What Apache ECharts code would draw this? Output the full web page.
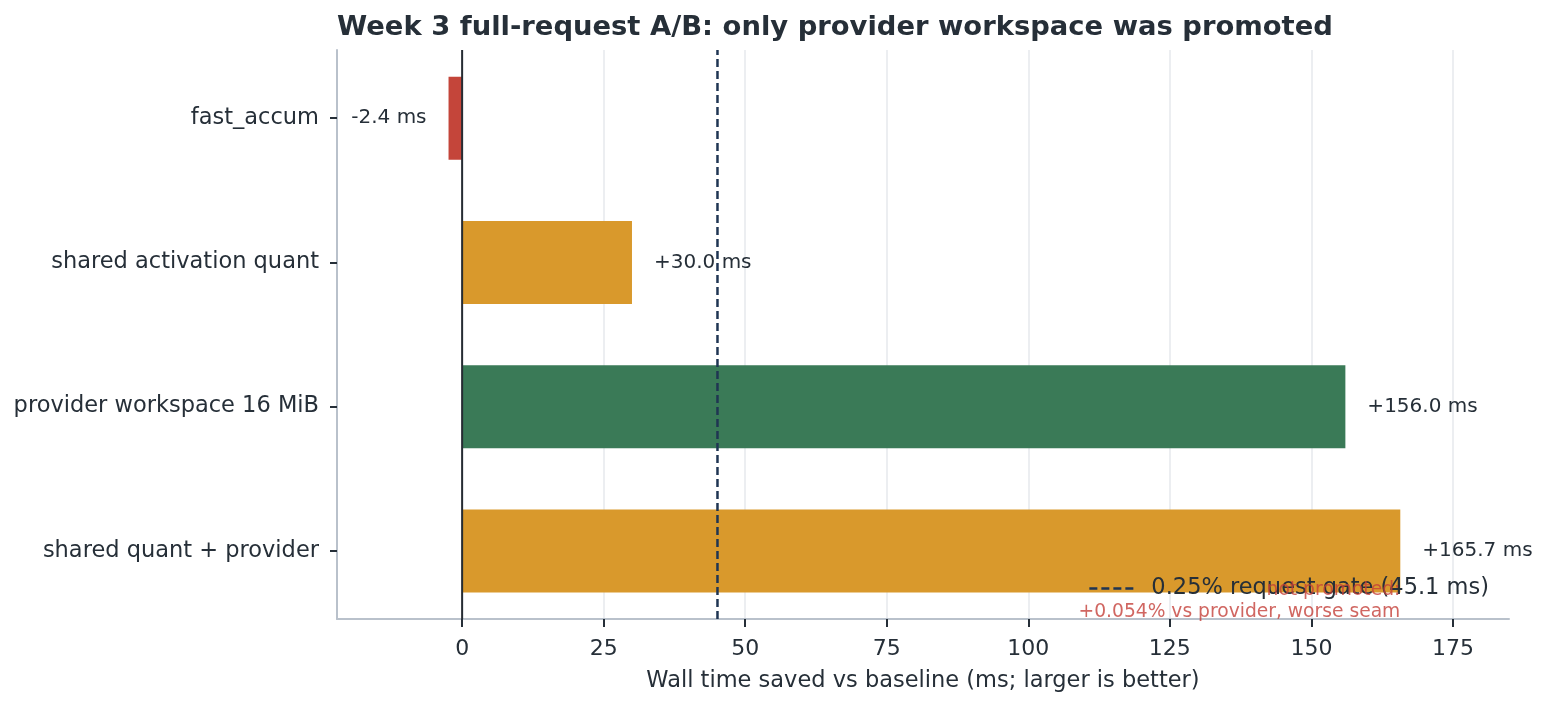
<!DOCTYPE html>
<html><head><meta charset="utf-8">
<script src="https://cdn.jsdelivr.net/npm/echarts@6/dist/echarts.min.js"></script>
<style>html,body{margin:0;padding:0;background:#fff}#c{width:1547px;height:707px}</style>
</head><body><div id="c"></div>
<script>
const categories = ['fast_accum', 'shared activation quant', 'provider workspace 16 MiB', 'shared quant + provider'];
const savedMs = [-2.4, 30.0, 156.0, 165.7];
const barColors = ['#c4453a', '#d9992c', '#3a7a57', '#d9992c'];
const xTicks = [0, 25, 50, 75, 100, 125, 150, 175];
const xRange = [-22.1, 184.9];
const gateMs = 45.1;
const gateLabel = '0.25% request gate (45.1 ms)';
const noteLines = ['not promoted:', '+0.054% vs provider, worse seam'];
const noteIndex = 3;

const FONT = 'DejaVu Sans';
const TXT = '#262f38';
const SPINE = '#b9c1cb';

const chart = echarts.init(document.getElementById('c'));
chart.setOption({
  animation: false,
  title: {
    text: 'Week 3 full-request A/B: only provider workspace was promoted',
    left: 332, top: 9,
    textStyle: { fontFamily: FONT, fontSize: 27.4, fontWeight: 'bold', color: TXT }
  },
  legend: {
    data: [gateLabel], right: 53, top: 572,
    itemWidth: 44, itemHeight: 24,
    lineStyle: { width: 2.5 },
    itemStyle: { opacity: 0 },
    textStyle: { fontFamily: FONT, fontSize: 22.5, color: TXT, padding: [0, 0, 0, 13] }
  },
  grid: [
    { left: 337, right: 38, top: 46, bottom: 84 },
    { left: 337, right: 38, top: 50, bottom: 88 }
  ],
  xAxis: [
    { gridIndex: 0, type: 'value', min: xRange[0], max: xRange[1], show: false },
    {
      gridIndex: 1, type: 'value', min: xRange[0], max: xRange[1],
      axisLine: { show: true, onZero: false, lineStyle: { color: SPINE, width: 2 } },
      axisTick: { show: true, length: 8, customValues: xTicks, lineStyle: { color: TXT, width: 2 } },
      axisLabel: { customValues: xTicks, fontFamily: FONT, fontSize: 22, color: TXT, margin: 19 },
      splitLine: { show: true, lineStyle: { color: '#e6e9ed', width: 1.5 } },
      name: 'Wall time saved vs baseline (ms; larger is better)',
      nameLocation: 'middle', nameGap: 51,
      nameTextStyle: { fontFamily: FONT, fontSize: 22.5, color: TXT }
    }
  ],
  yAxis: [
    {
      gridIndex: 0, type: 'category', data: categories, inverse: true,
      axisLine: { show: false, onZero: false },
      axisTick: { show: true, alignWithLabel: true, length: 7, lineStyle: { color: TXT, width: 2 } },
      axisLabel: { fontFamily: FONT, fontSize: 22.5, color: TXT, margin: 18, padding: [5, 0, 0, 0] },
      splitLine: { show: false }
    },
    {
      gridIndex: 1, type: 'value', min: 0, max: 1,
      axisLine: { show: true, onZero: false, lineStyle: { color: SPINE, width: 2 } },
      axisTick: { show: false }, axisLabel: { show: false }, splitLine: { show: false }
    }
  ],
  series: [
    {
      type: 'bar', xAxisIndex: 0, yAxisIndex: 0, barWidth: 83, z: 2,
      data: savedMs.map((v, i) => ({
        value: v,
        itemStyle: { color: barColors[i] },
        label: { position: v < 0 ? 'left' : 'right' }
      })),
      label: {
        show: true, distance: 22, fontFamily: FONT, fontSize: 20, color: TXT,
        formatter: p => (p.value > 0 ? '+' : '') + p.value.toFixed(1) + ' ms'
      }
    },
    {
      type: 'line', xAxisIndex: 1, yAxisIndex: 1, symbol: 'none', silent: true, z: 6,
      data: [[0, 0], [0, 1]],
      lineStyle: { color: '#262c33', width: 2 }
    },
    {
      name: gateLabel, type: 'line', xAxisIndex: 1, yAxisIndex: 1, symbol: 'none', silent: true, z: 6,
      data: [[gateMs, 0], [gateMs, 1]],
      lineStyle: { color: '#1f3553', width: 2.5, type: [8, 4] },
      itemStyle: { color: '#1f3553' }
    },
    {
      type: 'scatter', xAxisIndex: 0, yAxisIndex: 0, symbolSize: 0, silent: true, z: 7,
      data: [[savedMs[noteIndex], categories[noteIndex]]],
      label: {
        show: true, position: 'inside', align: 'right', verticalAlign: 'top', offset: [0, 28],
        formatter: noteLines.join('\n'),
        fontFamily: FONT, fontSize: 18.7, lineHeight: 22, color: '#c4403a'
      }
    }
  ]
});
</script>
</body></html>
